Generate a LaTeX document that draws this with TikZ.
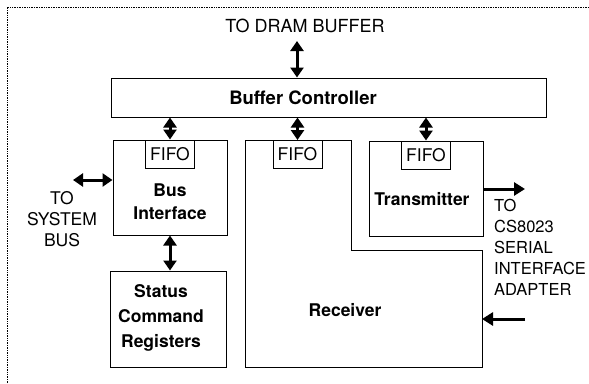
\documentclass[tikz,border=0pt]{standalone}
\usepackage{fontspec}
\setmainfont{TeX Gyre Heros}
\usetikzlibrary{arrows.meta,positioning}

\begin{document}
\begin{tikzpicture}[x=1pt,y=-1pt,font=\fontsize{17.5}{21}\selectfont,
  block/.style={draw,line width=1pt,inner sep=0pt},
  fifo/.style={draw,line width=0.9pt,minimum width=49pt,minimum height=28pt,inner sep=0pt,anchor=north},
  bus/.style={line width=3pt,-{Triangle[length=11pt,width=13pt]}},
  dbus/.style={line width=3pt,{Triangle[length=10pt,width=13pt]}-{Triangle[length=10pt,width=13pt]}},
  lbl/.style={align=center,inner sep=0pt},
  boldlbl/.style={lbl,font=\bfseries\fontsize{17.5}{23}\selectfont}]
\useasboundingbox (0,0) rectangle (589,383);
\draw[densely dotted,line width=0.7pt] (7,383) -- (7,7) -- (589,7);
% buffer controller and the DRAM side
\node[lbl,font=\fontsize{18}{21}\selectfont] (dram) at (305,26) {TO DRAM BUFFER};
\node[block,minimum width=435pt,minimum height=39pt] (buf) at (328.5,97.5) {};
\node[boldlbl,font=\bfseries\fontsize{18.5}{23}\selectfont] at (303,98) {Buffer Controller};
\coordinate (dramPort) at (297,41);
\draw[dbus] (dramPort) -- (dramPort |- buf.north);
% bus interface
\node[block,minimum width=114pt,minimum height=95pt] (bi) at (170,187.5) {};
\node[fifo] (fifoBi) at (bi.north) {FIFO};
\node[boldlbl] at (170,201.5) {Bus\\Interface};
\coordinate (sysPort) at (73,180);
\draw[dbus] (sysPort) -- (sysPort -| bi.west);
\node[lbl] at (62,219) {TO\\SYSTEM\\BUS};
% status registers
\node[block,minimum width=116pt,minimum height=96pt] (st) at (168,319) {};
\node[boldlbl,font=\bfseries\fontsize{17.5}{25}\selectfont] at (161,318) {Status\\Command\\Registers};
\draw[dbus] (st.north -| bi.south) -- (bi.south);
% receiver
\draw[line width=1pt] (245,140) -- (351,140) -- (351,250) -- (482,250) -- (482,367) -- (245,367) -- cycle;
\coordinate (rxTop) at (297.5,140);
\coordinate (rxIn) at (482,319);
\coordinate (rxPort) at (525,319);
\node[fifo] (fifoRx) at (rxTop) {FIFO};
\node[boldlbl] at (345,310) {Receiver};
\draw[bus] (rxPort) -- (rxIn);
% transmitter
\node[block,minimum width=114pt,minimum height=95pt] (tx) at (426,188.5) {};
\node[fifo] (fifoTx) at (tx.north) {FIFO};
\node[boldlbl] at (422,199) {Transmitter};
\coordinate (txPort) at (525,189);
\draw[bus] (txPort -| tx.east) -- (txPort);
\node[align=left,inner sep=0pt,anchor=north west,font=\fontsize{16.5}{21}\selectfont] at (494,199) {TO\\CS8023\\SERIAL\\INTERFACE\\ADAPTER};
% buffer to FIFOs
\draw[dbus] (buf.south -| fifoBi.north) -- (fifoBi.north);
\draw[dbus] (buf.south -| fifoRx.north) -- (fifoRx.north);
\draw[dbus] (buf.south -| fifoTx.north) -- (fifoTx.north);
\end{tikzpicture}
\end{document}
